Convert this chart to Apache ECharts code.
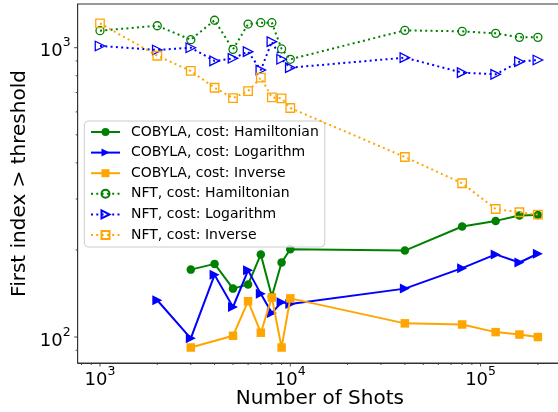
<!DOCTYPE html>
<html>
<head>
<meta charset="utf-8">
<script src="https://cdn.jsdelivr.net/npm/echarts@6/dist/echarts.min.js"></script>
<style>
html,body{margin:0;padding:0;background:#fff;}
#chart{width:558px;height:412px;}
</style>
</head>
<body>
<div id="chart"></div>
<script>
// ---- data ----
const shots = [1000, 2000, 3000, 4000, 5000, 6000, 7000, 8000, 9000, 10000, 40000, 80000, 120000, 160000, 200000];
const cobylaHamiltonian = [null, null, 171, 179, 147, 152, 193, 138, 181, 201, 199, 241, 252, 263, 264];
const cobylaLogarithm   = [null, 134, 99, 164, 127, 170, 141, 121, 132, 130, 147, 173, 193, 181, 194];
const cobylaInverse     = [null, null, 92, null, 101, 133, 103.5, 137, 92, 136, 111.5, 110.5, 104, 102, 100];
const nftHamiltonian    = [1145, 1191, 1066, 1244, 987, 1207, 1220, 1220, 990, 912, 1148, 1139, 1121, 1086, 1086];
const nftLogarithm      = [1014, 982, 1000, 900, 919, 969, 837, 1049, 912, 853, 924, 820, 809, 895, 907];
const nftInverse        = [1214, 938, 831, 727, 670, 708, 788, 674, 668, 619, 419, 340, 277, 270, 265];

const seriesNames = [
  'COBYLA, cost: Hamiltonian', 'COBYLA, cost: Logarithm', 'COBYLA, cost: Inverse',
  'NFT, cost: Hamiltonian', 'NFT, cost: Logarithm', 'NFT, cost: Inverse'
];

const xMajorTicks = [1000, 10000, 100000];
const xMinorTicks = [800, 900, 2000, 3000, 4000, 5000, 6000, 7000, 8000, 9000,
  20000, 30000, 40000, 50000, 60000, 70000, 80000, 90000, 200000];
const yMajorTicks = [100, 1000];
const yMinorTicks = [90, 200, 300, 400, 500, 600, 700, 800, 900];

const X_MIN = 763.5, X_MAX = 267800, Y_MIN = 81.33, Y_MAX = 1416;

const GREEN = '#008000', BLUE = '#0000ff', ORANGE = '#ffa500';
const TRI = 'path://M0,0L2,1L0,2Z';
const FONT = 'DejaVu Sans';

function pairs(arr) {
  const out = [];
  shots.forEach((s, i) => { if (arr[i] !== null) out.push([s, arr[i]]); });
  return out;
}

function solid(name, data, color, symbol, size, z) {
  return {
    name, type: 'line', data: pairs(data), z,
    symbol, symbolSize: size,
    lineStyle: { color, width: 2 },
    itemStyle: { color, borderWidth: 0 },
    emphasis: { disabled: true },
    animation: false
  };
}
function dotted(name, data, color, symbol, size, z) {
  return {
    name, type: 'line', data: pairs(data), z,
    symbol, symbolSize: size,
    lineStyle: { color, width: 2, type: [2, 3.3] },
    itemStyle: { color: 'rgba(0,0,0,0)', borderColor: color, borderWidth: 1.3 },
    emphasis: { disabled: true },
    animation: false
  };
}

const tickData = [];
xMajorTicks.forEach(v => tickData.push([v, Y_MIN, 0, 1]));
xMinorTicks.forEach(v => tickData.push([v, Y_MIN, 0, 0]));
yMajorTicks.forEach(v => tickData.push([X_MIN, v, 1, 1]));
yMinorTicks.forEach(v => tickData.push([X_MIN, v, 1, 0]));

function powLabel(v) {
  const l = Math.log10(v);
  const e = Math.round(l);
  if (Math.abs(l - e) > 1e-6) return '';
  return '{b|10}{s|' + e + '}';
}
const richLabel = {
  b: { fontSize: 18, fontFamily: FONT, color: '#000', verticalAlign: 'bottom', lineHeight: 20 },
  s: { fontSize: 12.5, fontFamily: FONT, color: '#000', verticalAlign: 'bottom', lineHeight: 14, padding: [0, 0, 11, 0] }
};

const chart = echarts.init(document.getElementById('chart'), null, { renderer: 'canvas' });
chart.setOption({
  backgroundColor: '#fff',
  animation: false,
  grid: {
    left: 77.7, top: 4, bottom: 49, right: -4,
    containLabel: false, outerBoundsMode: 'none',
    show: true, borderColor: '#333', borderWidth: 1, backgroundColor: 'transparent'
  },
  xAxis: {
    type: 'log', logBase: 10, min: X_MIN, max: X_MAX,
    name: 'Number of Shots', nameLocation: 'middle', nameGap: 26, nameMoveOverlap: false,
    nameTextStyle: { fontSize: 20, fontFamily: FONT, color: '#000' },
    axisLine: { show: true, lineStyle: { color: '#333', width: 1 } },
    axisTick: { show: false },
    splitLine: { show: false },
    minorTick: { show: false }, minorSplitLine: { show: false },
    axisLabel: { formatter: powLabel, rich: richLabel, margin: 6, showMinLabel: false, showMaxLabel: false }
  },
  yAxis: {
    type: 'log', logBase: 10, min: Y_MIN, max: Y_MAX,
    name: 'First index > threshold', nameLocation: 'middle', nameGap: 48, nameMoveOverlap: false,
    nameTextStyle: { fontSize: 20, fontFamily: FONT, color: '#000' },
    axisLine: { show: true, lineStyle: { color: '#333', width: 1 } },
    axisTick: { show: false },
    splitLine: { show: false },
    minorTick: { show: false }, minorSplitLine: { show: false },
    axisLabel: { formatter: powLabel, rich: richLabel, margin: 7, padding: [6, 0, 0, 0], showMinLabel: false, showMaxLabel: false }
  },
  legend: {
    orient: 'vertical', left: 84.3, top: 121,
    data: seriesNames,
    itemWidth: 29, itemHeight: 10, itemGap: 6.6,
    padding: [4, 6, 5, 5.7],
    backgroundColor: 'rgba(255,255,255,0.8)',
    borderColor: '#cccccc', borderWidth: 1, borderRadius: 4,
    textStyle: { fontSize: 14, fontFamily: FONT, color: '#000', padding: [0, 0, 0, 6], lineHeight: 14 },
    selectedMode: false
  },
  series: [
    solid(seriesNames[0], cobylaHamiltonian, GREEN, 'circle', 8.5, 2),
    solid(seriesNames[1], cobylaLogarithm, BLUE, TRI, 10, 3),
    solid(seriesNames[2], cobylaInverse, ORANGE, 'rect', 8.5, 4),
    dotted(seriesNames[3], nftHamiltonian, GREEN, 'circle', 8, 5),
    dotted(seriesNames[4], nftLogarithm, BLUE, TRI, 9.5, 6),
    dotted(seriesNames[5], nftInverse, ORANGE, 'rect', 8.5, 7),
    {
      type: 'custom', name: 'ticks', data: tickData, encode: { x: 0, y: 1 },
      silent: true, clip: false, z: 10, animation: false,
      renderItem: function (params, api) {
        const kind = api.value(2), major = api.value(3);
        const len = major ? 3.5 : 2;
        const p = api.coord([api.value(0), api.value(1)]);
        if (kind === 0) {
          return { type: 'line', shape: { x1: p[0], y1: p[1], x2: p[0], y2: p[1] + len }, style: { stroke: '#333', lineWidth: 0.9 } };
        }
        return { type: 'line', shape: { x1: p[0], y1: p[1], x2: p[0] - len, y2: p[1] }, style: { stroke: '#333', lineWidth: 0.9 } };
      }
    }
  ]
});
</script>
</body>
</html>
